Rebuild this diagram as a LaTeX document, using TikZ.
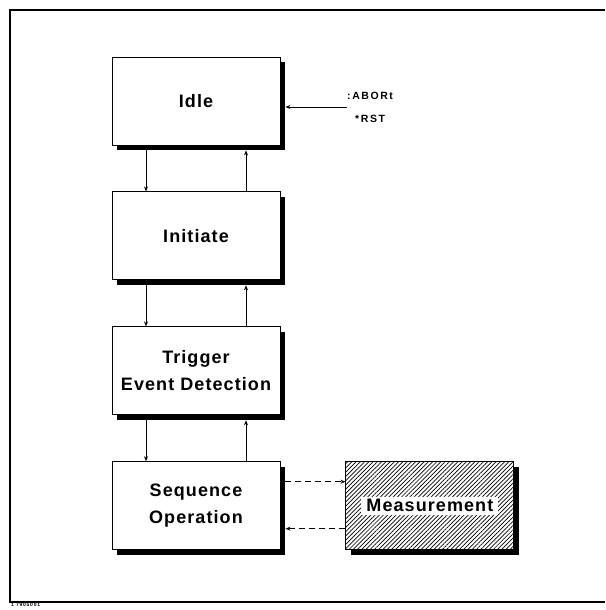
\documentclass[tikz,border=0pt]{standalone}
\usepackage{fontspec}
\newfontfamily\boxfont[LetterSpace=6]{Liberation Sans}
\newfontfamily\cmdfont[LetterSpace=15]{Liberation Sans}
\usetikzlibrary{positioning}
\usetikzlibrary{shadows}
\usetikzlibrary{patterns.meta}
\usetikzlibrary{arrows.meta}
\tikzstyle{state}=[draw, fill=white, line width=0.9pt, minimum width=168pt, minimum height=88pt, align=center, font=\boxfont\bfseries\fontsize{18}{27}\selectfont, drop shadow={shadow xshift=5pt, shadow yshift=-5pt, fill=black, opacity=1}]
\tikzstyle{hatched state}=[state, postaction={pattern={Lines[angle=45, distance=3pt, line width=0.7pt]}}]
\tikzstyle{label box}=[fill=white, inner xsep=5pt, inner ysep=2pt, text height=13pt, text depth=1pt, font=\boxfont\bfseries\fontsize{18}{27}\selectfont]
\tikzstyle{flow}=[line width=0.8pt, -{Stealth[length=5pt, width=4pt]}]
\tikzstyle{dashed flow}=[flow, line width=1.1pt, dash pattern=on 6pt off 4pt]
\tikzstyle{command}=[anchor=base west, inner sep=0pt, font=\cmdfont\bfseries\fontsize{10.5}{12}\selectfont]
\tikzstyle{frame line}=[line width=1.5pt]

\begin{document}
\begin{tikzpicture}[x=1pt, y=1pt, node distance=46pt]
  \useasboundingbox (0,0) rectangle (605,610);
  \draw[frame line] (605,600) -- (10,600) -- (10,8) -- (605,8);

  \node[state] (idle) at (196,509) {Idle};
  \node[state, below=of idle] (init) {Initiate};
  \node[state, below=of init] (trig) {Trigger\\Event Detection};
  \node[state, below=of trig] (seq) {Sequence\\Operation};
  \node[hatched state, right=65pt of seq] (meas) {};
  \node[label box] (measlbl) at (meas) {Measurement};

  \draw[flow] ([xshift=-50pt]idle.south) -- ([xshift=-50pt]init.north);
  \draw[flow] ([xshift=50pt]init.north) -- ([xshift=50pt, yshift=-5pt]idle.south);
  \draw[flow] ([xshift=-50pt]init.south) -- ([xshift=-50pt]trig.north);
  \draw[flow] ([xshift=50pt]trig.north) -- ([xshift=50pt, yshift=-5pt]init.south);
  \draw[flow] ([xshift=-50pt]trig.south) -- ([xshift=-50pt]seq.north);
  \draw[flow] ([xshift=50pt]seq.north) -- ([xshift=50pt, yshift=-5pt]trig.south);

  \draw[dashed flow] ([shift={(5pt,24pt)}]seq.east) -- ([yshift=24pt]meas.west);
  \draw[dashed flow] ([yshift=-23pt]meas.west) -- ([shift={(5pt,-23pt)}]seq.east);

  \coordinate (abortend) at ([shift={(5pt,-6pt)}]idle.east);
  \coordinate (abortin) at ([xshift=62pt]abortend);
  \draw[flow] (abortin) -- (abortend);
  \node[command] (abortlbl) at (347,510) {:ABORt};
  \node[command] (rstlbl) at (355,487) {*RST};

  \node[anchor=north west, inner sep=0pt, font=\cmdfont\bfseries\fontsize{5}{6}\selectfont] (figno) at (11,7) {1 7905001};
\end{tikzpicture}
\end{document}
